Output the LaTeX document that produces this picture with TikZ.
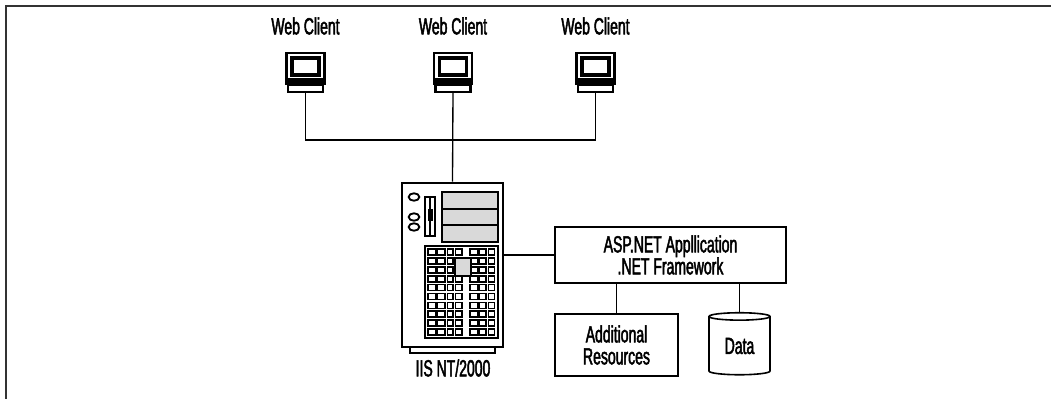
\documentclass[tikz,border=0pt]{standalone}
\usepackage{fontspec}
\setmainfont[FakeStretch=0.6, FakeBold=2]{Liberation Sans}
\usetikzlibrary{shapes.geometric}

\tikzset{
    lbl/.style={font=\fontsize{17.5}{16.5}\selectfont, align=center, inner sep=0pt},
    box/.style={lbl, draw, line width=1.2pt},
    wire/.style={line width=1pt},
    cell/.style={line width=1.3pt},
    pics/webpc/.style={code={
        \draw[line width=2pt] (-19,0) rectangle (19,31);
        \fill (-19,25) rectangle (19,31);
        \draw[line width=2.6pt] (-13.5,5) rectangle (13.5,22);
        \draw[line width=1.6pt, fill=white] (-17.5,32) rectangle (17.5,39);
        \coordinate (-base) at (0,39);
    }}
}

\begin{document}
\begin{tikzpicture}[x=0.75pt, y=-0.75pt]
    \useasboundingbox (0,0) rectangle (1051,399);

    % Frame
    \draw[line width=1.5pt, black!80] (6,399) -- (6,6) -- (1051,6);

    % Web clients
    \foreach \x/\n in {305.5/1, 453/2, 595.5/3} {
        \node[lbl] (name\n) at (\x,26) {Web Client};
        \pic (pc\n) at (\x,53) {webpc};
    }

    % Server tower
    \node[draw, line width=2pt, minimum width=75.75pt, minimum height=123pt, inner sep=0pt] (server) at (452.5,265) {};
    \draw[line width=1.6pt] (410,347) rectangle (495,353);
    \node[lbl] (iis) at (453,368) {IIS NT/2000};

    % front panel: buttons, floppy, drive bays
    \draw[line width=1.4pt] (414,197) ellipse (4pt and 2.8pt);
    \draw[line width=1.4pt] (414,217) ellipse (4pt and 2.8pt);
    \draw[line width=1.4pt] (414,227) ellipse (4pt and 2.8pt);
    \draw[line width=1.4pt] (425,197) rectangle (435,236);
    \draw[line width=0.8pt] (430,197) -- (430,236);
    \fill (427.5,209) rectangle (432.5,221);
    \draw[line width=1.8pt, fill=gray!30] (442,192) rectangle (498,242);
    \draw[line width=1.8pt] (442,209) -- (498,209) (442,225) -- (498,225);

    % vent grid
    \draw[line width=1.6pt] (425,246) rectangle (498,338);
    \foreach \r in {0,...,9}
        \foreach \a/\b in {428/436, 437.5/445, 447.5/453, 455.5/462, 470/478, 479.5/486, 488.5/494.5}
            \draw[cell] (\a,{249+8.9*\r}) rectangle (\b,{255+8.9*\r});
    \draw[line width=1.2pt, fill=gray!30] (455,258) rectangle (471,276);

    % Application side
    \node[box, minimum width=173pt, minimum height=42pt] (asp) at (670.5,255) {ASP.NET Appllication\\.NET Framework};
    \node[box, minimum width=92pt, minimum height=46.5pt] (res) at (616.5,345) {Additional\\Resources};
    \node[lbl, cylinder, shape border rotate=90, draw, line width=1.2pt, aspect=0.25,
          minimum width=45.75pt, minimum height=46.5pt] (data) at (739.5,346) {Data};

    % Connections
    \coordinate (bus) at (453,140);
    \draw[wire] (pc1-base) |- (bus) -| (pc3-base);
    \draw[wire] (pc2-base) -- (server.north);
    \draw[wire] (asp.west) -- (asp.west -| server.east);
    \draw[wire] (asp.south -| res.north) -- (res.north);
    \draw[wire] (asp.south -| data.top) -- (data.top);

\end{tikzpicture}
\end{document}
